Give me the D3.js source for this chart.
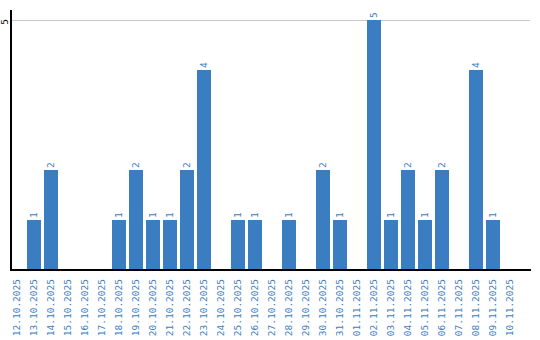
<!DOCTYPE html>
<html><head><meta charset="utf-8">
<script src="https://cdn.jsdelivr.net/npm/d3@7"></script>
<style>body{margin:0;background:#fff}svg{display:block}text{font-family:"DejaVu Sans Mono",monospace;font-size:9.5px}</style>
</head><body><svg id="c" width="540" height="340"></svg>
<script>
const categories = ["12.10.2025","13.10.2025","14.10.2025","15.10.2025","16.10.2025","17.10.2025","18.10.2025","19.10.2025","20.10.2025","21.10.2025","22.10.2025","23.10.2025","24.10.2025","25.10.2025","26.10.2025","27.10.2025","28.10.2025","29.10.2025","30.10.2025","31.10.2025","01.11.2025","02.11.2025","03.11.2025","04.11.2025","05.11.2025","06.11.2025","07.11.2025","08.11.2025","09.11.2025","10.11.2025"];
const values = [0,1,2,0,0,0,1,2,1,1,2,4,0,1,1,0,1,0,2,1,0,5,1,2,1,2,0,4,1,0];
const yTicks = [5];

const svg = d3.select("#c");
const blue = "#3b7dc1";
const x = d3.scaleBand().domain(categories).range([10, 517]).paddingInner(3/17).paddingOuter(0).align(0);
const y = d3.scaleLinear().domain([0, 5]).range([270, 20]);

// gridlines
svg.append("g").selectAll("line").data(yTicks).join("line")
  .attr("x1", 11).attr("x2", 530).attr("y1", d => y(d)+0.5).attr("y2", d => y(d)+0.5)
  .attr("stroke", "#c8c8c8").attr("stroke-width", 1);

// y tick labels
svg.append("g").selectAll("text").data(yTicks).join("text")
  .attr("transform", d => `translate(4.5,${y(d)+2}) rotate(-90)`)
  .attr("text-anchor","middle").attr("dy","0.35em").attr("fill","#000").text(d => d);

// bars
svg.append("g").selectAll("rect").data(values.map((v,i)=>({c:categories[i],v}))).join("rect")
  .filter(d => d.v > 0)
  .attr("x", d => x(d.c)).attr("width", x.bandwidth())
  .attr("y", d => y(d.v)).attr("height", d => y(0) - y(d.v))
  .attr("fill", blue);

// value labels
svg.append("g").selectAll("text").data(values.map((v,i)=>({c:categories[i],v})).filter(d=>d.v>0)).join("text")
  .attr("transform", d => `translate(${x(d.c)+x.bandwidth()/2},${y(d.v)-2}) rotate(-90)`)
  .attr("text-anchor","start").attr("dy","0.35em").attr("fill", blue).text(d => d.v);

// x tick labels
svg.append("g").selectAll("text").data(categories).join("text")
  .attr("transform", d => `translate(${x(d)+x.bandwidth()/2},279) rotate(-90)`)
  .attr("text-anchor","end").attr("dy","0.35em").attr("fill", blue).text(d => d);

// axes lines
svg.append("line").attr("x1",11).attr("x2",11).attr("y1",10).attr("y2",271)
  .attr("stroke","#000").attr("stroke-width",2);
svg.append("line").attr("x1",10).attr("x2",531).attr("y1",270).attr("y2",270)
  .attr("stroke","#000").attr("stroke-width",2);
</script></body></html>
